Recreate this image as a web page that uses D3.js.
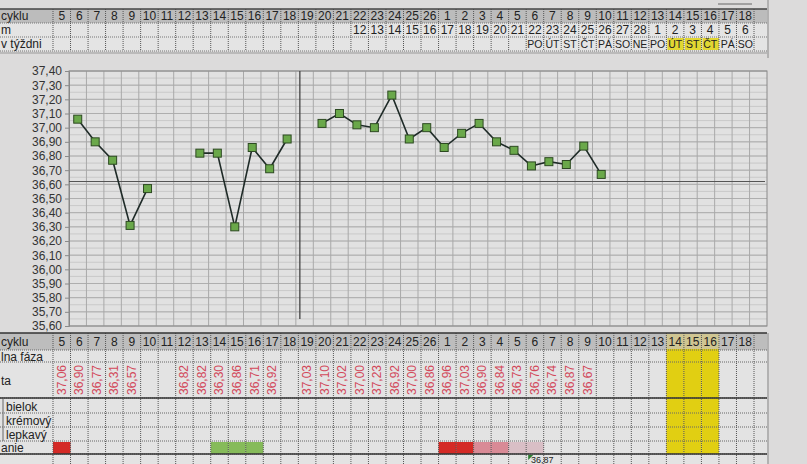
<!DOCTYPE html>
<html>
<head>
<meta charset="utf-8">
<script src="https://cdn.jsdelivr.net/npm/d3@7"></script>
<style>
body { margin: 0; background: #dcdbdb; }
svg { display: block; font-family: "Liberation Sans", Arial, sans-serif; }
</style>
</head>
<body>
<svg id="sheet" width="807" height="464"></svg>
<script>
// ---- data read from the sheet ----
// cycle day per column (previous cycle 5..26, new cycle 1..18)
const cycleDays = [5,6,7,8,9,10,11,12,13,14,15,16,17,18,19,20,21,22,23,24,25,26,
                   1,2,3,4,5,6,7,8,9,10,11,12,13,14,15,16,17,18];
// calendar date per column (blank where not filled)
const dates = [null,null,null,null,null,null,null,null,null,null,null,null,null,null,null,null,null,
               12,13,14,15,16,17,18,19,20,21,22,23,24,25,26,27,28,1,2,3,4,5,6];
// weekday per column
const weekdays = [null,null,null,null,null,null,null,null,null,null,null,null,null,null,null,
                  null,null,null,null,null,null,null,null,null,null,null,null,
                  "PO","ÚT","ST","ČT","PÁ","SO","NE","PO","ÚT","ST","ČT","PÁ","SO"];
// basal temperature per column
const temps = [37.06,36.90,36.77,36.31,36.57,null,null,36.82,36.82,36.30,36.86,36.71,36.92,null,
               37.03,37.10,37.02,37.00,37.23,36.92,37.00,36.86,
               36.96,37.03,36.90,36.84,36.73,36.76,36.74,36.87,36.67,
               null,null,null,null,null,null,null,null,null];
// marking in the last row ("krvácanie")
const bleeding = ["heavy",null,null,null,null,null,null,null,null,"green","green","green",null,null,
                  null,null,null,null,null,null,null,null,
                  "heavy","heavy","medium","medium","light","light",null,null,null,
                  null,null,null,null,null,null,null,null,null];
const highlightCols = [35, 36, 37];          // yellow columns (new cycle days 14-16)
const yTicks = [35.60,35.70,35.80,35.90,36.00,36.10,36.20,36.30,36.40,36.50,
                36.60,36.70,36.80,36.90,37.00,37.10,37.20,37.30,37.40];
const coverLine = 36.62;
const dividerCol = 13;
const bottomNote = "36,87";

// ---- layout ----
const svg = d3.select("#sheet");
const W = 807, H = 464;
const tableRight = 767;
const cols = d3.range(cycleDays.length);
const xCol = d3.scaleBand().domain(cols).range([53, 754]);
const xPlot = d3.scaleBand().domain(cols).range([69, 767]);
const y = d3.scaleLinear().domain([35.6, 37.4]).range([326, 71]);

const comma = v => d3.format(".2f")(v).replace(".", ",");
const bleedColor = { heavy: "#d42a26", medium: "#d98a96", light: "#d9bfc6", green: "#86bb5a" };

svg.append("rect").attr("width", W).attr("height", H).attr("fill", "#dcdbdb");

// ---- top header rows ----
function header(top, rows) {
  const g = svg.append("g");
  const rowH = 14;
  g.append("rect").attr("x", 0).attr("y", top).attr("width", tableRight)
    .attr("height", rowH * rows.length).attr("fill", "#e4e4e4");
  rows.forEach((r, i) => {
    const ry = top + i * rowH;
    if (r.gray) {
      g.append("rect").attr("x", 0).attr("y", ry).attr("width", tableRight).attr("height", rowH)
        .attr("fill", "#bcbcbc");
    }
    if (r.highlight) {
      g.selectAll(null).data(highlightCols).join("rect")
        .attr("x", d => xCol(d) + 1).attr("y", ry + 1)
        .attr("width", xCol.bandwidth() - 1).attr("height", rowH - 2)
        .attr("fill", "#e2d732");
    }
    g.append("text").attr("x", 1).attr("y", ry + 11).attr("font-size", 12)
      .attr("fill", "#222").text(r.label);
    g.selectAll(null).data(cols.filter(c => r.values[c] != null)).join("text")
      .attr("x", c => xCol(c) + xCol.bandwidth() / 2).attr("y", ry + 11)
      .attr("text-anchor", "middle").attr("font-size", r.small ? 10.5 : 12).attr("fill", "#222")
      .text(c => r.values[c]);
    g.append("line").attr("x1", 0).attr("x2", tableRight).attr("y1", ry + rowH).attr("y2", ry + rowH)
      .attr("stroke", "#777").attr("stroke-dasharray", "1,1");
  });
  g.selectAll(null).data(d3.range(cols.length + 1)).join("line")
    .attr("x1", c => c < cols.length ? xCol(c) : xCol.range()[1])
    .attr("x2", c => c < cols.length ? xCol(c) : xCol.range()[1])
    .attr("y1", top).attr("y2", top + rowH * rows.length)
    .attr("stroke", "#555").attr("stroke-dasharray", "1,1");
  g.append("line").attr("x1", 0).attr("x2", tableRight).attr("y1", top).attr("y2", top)
    .attr("stroke", "#444").attr("stroke-width", 1.5);
  return g;
}

header(9, [
  { label: "cyklu", values: cycleDays, gray: true },
  { label: "m", values: dates },
  { label: "v týždni", values: weekdays, highlight: true, small: true }
]);
svg.append("line").attr("x1", 0).attr("x2", tableRight).attr("y1", 53).attr("y2", 53)
  .attr("stroke", "#999");
svg.append("line").attr("x1", 768).attr("x2", 768).attr("y1", 0).attr("y2", 58)
  .attr("stroke", "#888");
svg.append("line").attr("x1", 718).attr("x2", 752).attr("y1", 4).attr("y2", 4)
  .attr("stroke", "#666");

// ---- temperature chart ----
const plot = svg.append("g");
plot.append("rect").attr("x", 69).attr("y", 71).attr("width", 698).attr("height", 255)
  .attr("fill", "#e1e1e1");

const minor = d3.range(35.6, 37.401, 0.05);
plot.selectAll(null).data(minor).join("line")
  .attr("x1", 69).attr("x2", 767).attr("y1", d => y(d)).attr("y2", d => y(d))
  .attr("stroke", "#c9c9c9");
plot.selectAll(null).data(yTicks).join("line")
  .attr("x1", 69).attr("x2", 767).attr("y1", d => y(d)).attr("y2", d => y(d))
  .attr("stroke", "#aeaeae");
plot.selectAll(null).data(cols.slice(1)).join("line")
  .attr("x1", c => xPlot(c)).attr("x2", c => xPlot(c)).attr("y1", 71).attr("y2", 326)
  .attr("stroke", "#a9a9a9");
plot.append("rect").attr("x", 69).attr("y", 71).attr("width", 698).attr("height", 255)
  .attr("fill", "none").attr("stroke", "#8a8a8a");

const yAxis = d3.axisLeft(y).tickValues(yTicks).tickFormat(comma).tickSize(4);
plot.append("g").attr("transform", "translate(69,0)").call(yAxis)
  .call(g => g.select(".domain").attr("stroke", "#8a8a8a"))
  .call(g => g.selectAll(".tick line").attr("stroke", "#8a8a8a"))
  .call(g => g.selectAll("text").attr("font-size", 12).attr("fill", "#333")
    .attr("font-family", "Liberation Sans, Arial, sans-serif"));

// cover line and divider
plot.append("line").attr("x1", 69).attr("x2", 765).attr("y1", y(coverLine)).attr("y2", y(coverLine))
  .attr("stroke", "#555").attr("stroke-width", 1.2);
const divX = xPlot(dividerCol) + 4;
plot.append("line").attr("x1", divX).attr("x2", divX).attr("y1", 71).attr("y2", 319)
  .attr("stroke", "#444").attr("stroke-width", 1.3);

const pts = cols.map(c => ({ c, v: temps[c] }));
const line = d3.line().defined(d => d.v != null)
  .x(d => xPlot(d.c) + xPlot.bandwidth() / 2).y(d => y(d.v));
plot.append("path").datum(pts).attr("d", line).attr("fill", "none")
  .attr("stroke", "#1f2b28").attr("stroke-width", 1.6);
plot.selectAll(null).data(pts.filter(d => d.v != null)).join("rect")
  .attr("x", d => xPlot(d.c) + xPlot.bandwidth() / 2 - 4).attr("y", d => y(d.v) - 4)
  .attr("width", 8).attr("height", 8).attr("fill", "#6aa84a")
  .attr("stroke", "#2d4a22").attr("stroke-width", 1);

// ---- bottom table ----
const bt = svg.append("g");
const rows = [
  { label: "cyklu", top: 333, h: 17, gray: true },
  { label: "lna fáza", top: 350, h: 12 },
  { label: "ta", top: 362, h: 36 },
  { label: "bielok", top: 399, h: 14, indent: true },
  { label: "krémový", top: 413, h: 14, indent: true },
  { label: "lepkavý", top: 427, h: 14, indent: true },
  { label: "anie", top: 441, h: 13 },
  { label: "", top: 455, h: 12 }
];
bt.append("rect").attr("x", 0).attr("y", 333).attr("width", tableRight).attr("height", H - 333)
  .attr("fill", "#e3e3e3");
bt.append("rect").attr("x", 0).attr("y", 333).attr("width", tableRight).attr("height", 17)
  .attr("fill", "#bdbdbd");

// yellow fertile columns
bt.selectAll(null).data(highlightCols).join("rect")
  .attr("x", c => xCol(c)).attr("y", 347).attr("width", xCol.bandwidth()).attr("height", 107)
  .attr("fill", "#e1cf12");
bt.selectAll(null).data(highlightCols).join("rect")
  .attr("x", c => xCol(c)).attr("y", 334).attr("width", xCol.bandwidth()).attr("height", 15)
  .attr("fill", "#cfc592");

// bleeding cells
bt.selectAll(null).data(cols.filter(c => bleeding[c])).join("rect")
  .attr("x", c => xCol(c)).attr("y", 442).attr("width", xCol.bandwidth()).attr("height", 12)
  .attr("fill", c => bleedColor[bleeding[c]]);

rows.forEach(r => {
  bt.append("line").attr("x1", 0).attr("x2", tableRight).attr("y1", r.top + r.h).attr("y2", r.top + r.h)
    .attr("stroke", "#666").attr("stroke-dasharray", "1,1");
  bt.append("text").attr("x", r.indent ? 6 : 1).attr("y", r.top + r.h / 2 + 4.5)
    .attr("font-size", 12).attr("fill", "#222").text(r.label);
});
bt.append("line").attr("x1", 3).attr("x2", 3).attr("y1", 399).attr("y2", 441).attr("stroke", "#666");
bt.selectAll(null).data(d3.range(cols.length + 1)).join("line")
  .attr("x1", c => c < cols.length ? xCol(c) : xCol.range()[1])
  .attr("x2", c => c < cols.length ? xCol(c) : xCol.range()[1])
  .attr("y1", 333).attr("y2", H).attr("stroke", "#555").attr("stroke-dasharray", "1,1");
[333, 398, 454].forEach(yy => {
  bt.append("line").attr("x1", 0).attr("x2", tableRight).attr("y1", yy).attr("y2", yy)
    .attr("stroke", "#333").attr("stroke-width", 1.6);
});
bt.append("line").attr("x1", tableRight + 1).attr("x2", tableRight + 1).attr("y1", 333).attr("y2", H)
  .attr("stroke", "#888");

bt.selectAll(null).data(cols).join("text")
  .attr("x", c => xCol(c) + xCol.bandwidth() / 2).attr("y", 346)
  .attr("text-anchor", "middle").attr("font-size", 12).attr("fill", "#222")
  .text(c => cycleDays[c]);

bt.selectAll(null).data(cols.filter(c => temps[c] != null)).join("text")
  .attr("transform", c => `translate(${xCol(c) + xCol.bandwidth() / 2 + 4},380) rotate(-90)`)
  .attr("text-anchor", "middle").attr("font-size", 12).attr("fill", "#d2485a")
  .text(c => comma(temps[c]));

// comment marker and note in the last row
const noteX = xCol(27) + 2;
bt.append("path").attr("d", `M${noteX},455 L${noteX + 5},455 L${noteX},460 Z`).attr("fill", "#2e7d32");
bt.append("text").attr("x", noteX + 14).attr("y", 463).attr("text-anchor", "middle")
  .attr("font-size", 9).attr("fill", "#222").text(bottomNote);
</script>
</body>
</html>
